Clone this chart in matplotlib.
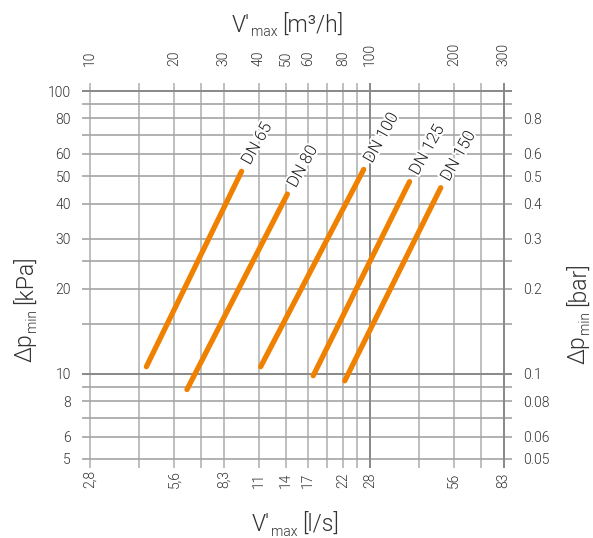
import matplotlib
matplotlib.use("Agg")
import matplotlib.pyplot as plt
import matplotlib.patheffects as pe
from matplotlib.ticker import NullLocator
from matplotlib.transforms import IdentityTransform

# ---------------- data ----------------
dn_labels = ["DN 65", "DN 80", "DN 100", "DN 125", "DN 150"]
flow_start = [15.9, 22.2, 40.7, 62.7, 81.3]      # m3/h
flow_end = [34.8, 50.7, 95.0, 138.5, 179.0]      # m3/h
dp_start = [10.6, 8.8, 10.6, 9.85, 9.45]         # kPa
dp_end = [52.0, 43.2, 52.8, 47.8, 45.5]          # kPa

x_ticks = [10, 20, 30, 40, 50, 60, 80, 100, 200, 300]
x_top_labels = ["10", "20", "30", "40", "50", "60", "80", "100", "200", "300"]
x_bottom_labels = ["2,8", "5,6", "8,3", "11", "14", "17", "22", "28", "56", "83"]
x_minor_grid = [15, 25, 70, 90, 150, 250]
x_dark = [100, 300]

y_ticks = [5, 6, 8, 10, 20, 30, 40, 50, 60, 80, 100]
y_left_labels = ["5", "6", "8", "10", "20", "30", "40", "50", "60", "80", "100"]
y_right_ticks = [5, 6, 8, 10, 20, 30, 40, 50, 60, 80]
y_right_labels = ["0.05", "0.06", "0.08", "0.1", "0.2", "0.3", "0.4", "0.5", "0.6", "0.8"]
y_minor_grid = [7, 9, 15, 25, 70, 90]
y_dark = [10, 100]

# ---------------- style ----------------
plt.rcParams['font.family'] = ["Roboto", 'DejaVu Sans']
plt.rcParams['font.weight'] = 300
TXT = '#333333'
ORANGE = '#F08000'
GRID_H = '#a4a4a4'
GRID_V = '#b4b4b4'
GRID_D = '#888888'
PT = 0.72  # points per pixel at 100 dpi

W, H = 593, 538
fig = plt.figure(figsize=(W / 100, H / 100), dpi=100)
L, R, T, B = 90, 503.5, 91, 459
ax = fig.add_axes([L / W, 1 - B / H, (R - L) / W, (B - T) / H])
ax.set_xscale('log')
ax.set_yscale('log')
ax.set_xlim(10, 300)
ax.set_ylim(5, 100)
for s in ax.spines.values():
    s.set_visible(False)

ext_x = 8.5 / (R - L)
ext_y = 8.5 / (B - T)
for v in x_ticks + x_minor_grid:
    dark = v in x_dark
    ax.plot([v, v], [-ext_y, 1 + ext_y], transform=ax.get_xaxis_transform(),
            color=GRID_D if dark else GRID_V, lw=1.4 if dark else 1.2,
            clip_on=False, zorder=1.5 if dark else 1, solid_capstyle='butt')
for v in y_ticks + y_minor_grid:
    dark = v in y_dark
    ax.plot([-ext_x, 1 + ext_x], [v, v], transform=ax.get_yaxis_transform(),
            color=GRID_D if dark else GRID_H, lw=1.4 if dark else 1.2,
            clip_on=False, zorder=1.5 if dark else 1, solid_capstyle='butt')

for lab, x0, x1, y0, y1 in zip(dn_labels, flow_start, flow_end, dp_start, dp_end):
    ax.plot([x0, x1], [y0, y1], color=ORANGE, lw=3.8, solid_capstyle='round', zorder=3)
    ax.annotate(lab, xy=(x1, y1), xytext=(6.0, 4.0), textcoords='offset points',
                rotation=61, rotation_mode='anchor', ha='left', va='baseline',
                fontsize=12, color='#1e1e1e', zorder=4,
                path_effects=[pe.withStroke(linewidth=3, foreground='white')])

# ticks
TS = 10
ax.xaxis.set_minor_locator(NullLocator())
ax.yaxis.set_minor_locator(NullLocator())
ax.set_xticks(x_ticks, labels=x_bottom_labels)
ax.set_yticks(y_ticks, labels=y_left_labels)
ax.tick_params(axis='x', length=0, pad=29 * PT, labelsize=TS, labelcolor=TXT,
               labelrotation=90)
for t in ax.get_xticklabels():
    t.set_va('bottom')
ax.tick_params(axis='y', length=0, pad=19 * PT, labelsize=TS, labelcolor=TXT)

secx = ax.secondary_xaxis('top')
secx.xaxis.set_minor_locator(NullLocator())
secx.set_xticks(x_ticks, labels=x_top_labels)
secx.tick_params(axis='x', length=0, pad=25 * PT, labelsize=TS, labelcolor=TXT,
                 labelrotation=90)
secy = ax.secondary_yaxis('right')
secy.yaxis.set_minor_locator(NullLocator())
secy.set_yticks(y_right_ticks, labels=y_right_labels)
secy.tick_params(axis='y', length=0, pad=20 * PT, labelsize=TS, labelcolor=TXT)
for a in (secx, secy):
    for s in a.spines.values():
        s.set_visible(False)

# axis titles composed of main text + small subscript
renderer = fig.canvas.get_renderer()
LS, SS, DROP = 16.5, 10, 4.5


def text_width(s, size):
    t = fig.text(0, 0, s, fontsize=size)
    w = t.get_window_extent(renderer).width
    t.remove()
    return w


def compose(x0, y0, parts, rotation=0):
    """parts: (text, size, baseline_shift_px, gap_before_px); x0,y0 = start of baseline (px, from top)."""
    pos = 0.0
    yd = H - y0
    for s, size, shift, gap in parts:
        pos += gap
        if rotation == 0:
            px, py = x0 + pos, yd + shift
        else:
            px, py = x0 - shift, yd + pos
        fig.text(px, py, s, fontsize=size, color=TXT, rotation=rotation,
                 rotation_mode='anchor', ha='left', va='baseline',
                 transform=IdentityTransform())
        pos += text_width(s, size)


compose(231.5, 31.5, [("V'", LS, 0, 0), ("max", SS, -DROP, 1), ("[m³/h]", LS, 0, 5)])
compose(251.5, 531, [("V'", LS, 0, 0), ("max", SS, -DROP, 1), ("[l/s]", LS, 0, 5)])
compose(31.5, 362, [("Δp", LS, 0, 0), ("min", SS, -DROP, 1), ("[kPa]", LS, 0, 5)], rotation=90)
compose(585, 363.5, [("Δp", LS, 0, 0), ("min", SS, -DROP, 1), ("[bar]", LS, 0, 5)], rotation=90)

fig.savefig("out.png", dpi=100)
